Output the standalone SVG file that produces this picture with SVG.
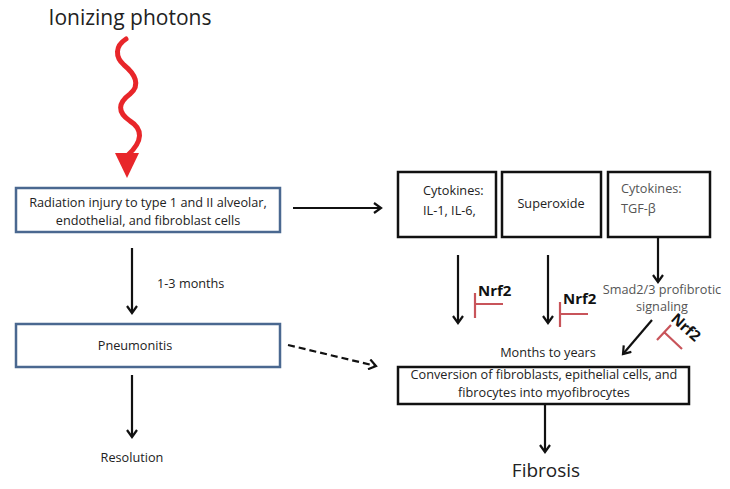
<svg xmlns="http://www.w3.org/2000/svg" width="730" height="489" viewBox="0 0 730 489">
<style>
text{font-family:"Open Sans","Liberation Sans",sans-serif;fill:#222}
.s{font-size:12.7px}
.g{fill:#555}
.b{font-weight:bold;font-size:15px;fill:#111}
.bx{fill:#fff;stroke:#4a6890;stroke-width:2.5}
.kx{fill:#fff;stroke:#111;stroke-width:2.5}
.ln{stroke:#111;stroke-width:2.2;fill:none}
.inh{stroke:#c8545a;stroke-width:2.2;fill:none}
</style>
<defs>
<marker id="ah" markerWidth="12" markerHeight="12" refX="9" refY="6" orient="auto" markerUnits="userSpaceOnUse">
<path d="M2,1 L9,6 L2,11" fill="none" stroke="#111" stroke-width="2.2"/>
</marker>
</defs>
<g id="title"><text x="130" y="25" text-anchor="middle" style="font-size:21px">Ionizing photons</text></g>
<g id="photon">
<path d="M126,39 C115,46 115,57 124,65 C135,74 141,85 130,94 C118,103 117,112 130,121 C143,129 143,141 128,155" fill="none" stroke="#e8262a" stroke-width="5" stroke-linecap="round"/>
<polygon points="115,153 139,153 127,178" fill="#e8262a"/>
</g>
<g id="injury">
<rect class="bx" x="16" y="188" width="264" height="44"/>
<text class="s" x="148" y="207" text-anchor="middle">Radiation injury to type 1 and II alveolar,</text>
<text class="s" x="148" y="225" text-anchor="middle">endothelial, and fibroblast cells</text>
</g>
<g id="pneumonitis">
<rect class="bx" x="16" y="324" width="264" height="43"/>
<text class="s" x="135" y="350" text-anchor="middle">Pneumonitis</text>
</g>
<g id="resolution"><text class="s" x="132" y="462" text-anchor="middle">Resolution</text></g>
<g id="cyto1">
<rect class="kx" x="398" y="172" width="98" height="65"/>
<text class="s" x="423" y="195">Cytokines:</text>
<text class="s" x="423" y="215">IL-1, IL-6,</text>
</g>
<g id="superoxide">
<rect class="kx" x="502" y="172" width="99" height="65"/>
<text class="s" x="551" y="208" text-anchor="middle">Superoxide</text>
</g>
<g id="cyto2">
<rect class="kx" x="608" y="172" width="102" height="65"/>
<text class="s g" x="621" y="193">Cytokines:</text>
<text class="s g" x="621" y="213">TGF-β</text>
</g>
<g id="smad">
<text class="s g" x="662" y="294" text-anchor="middle">Smad2/3 profibrotic</text>
<text class="s g" x="662" y="311" text-anchor="middle">signaling</text>
</g>
<g id="months"><text class="s" x="548" y="357" text-anchor="middle">Months to years</text></g>
<g id="conversion">
<rect class="kx" x="398" y="367" width="291" height="37"/>
<text class="s" x="544" y="379" text-anchor="middle">Conversion of fibroblasts, epithelial cells, and</text>
<text class="s" x="544" y="397" text-anchor="middle">fibrocytes into myofibrocytes</text>
</g>
<g id="fibrosis"><text x="546" y="477" text-anchor="middle" style="font-size:19px">Fibrosis</text></g>
<g id="nrf2">
<text class="b" x="478" y="296">Nrf2</text>
<path class="inh" d="M475,293 V318 M475,304 H503"/>
<text class="b" x="563" y="304">Nrf2</text>
<path class="inh" d="M560,302 V327 M560,314 H588"/>
<text class="b" transform="translate(670,320) rotate(42)">Nrf2</text>
<path class="inh" d="M657,340 L671,325 M664,332 L682,349"/>
</g>
<g id="connectors">
<line class="ln" x1="293" y1="208" x2="381" y2="208" marker-end="url(#ah)"/>
<line class="ln" x1="132" y1="248" x2="132" y2="313" marker-end="url(#ah)"/>
<text class="s" x="157" y="288">1-3 months</text>
<line class="ln" x1="132" y1="375" x2="132" y2="437" marker-end="url(#ah)"/>
<line class="ln" x1="288" y1="345" x2="376" y2="366" stroke-dasharray="7,4" marker-end="url(#ah)"/>
<line class="ln" x1="458" y1="255" x2="458" y2="323" marker-end="url(#ah)"/>
<line class="ln" x1="548" y1="255" x2="548" y2="323" marker-end="url(#ah)"/>
<line class="ln" x1="658" y1="237" x2="658" y2="282" marker-end="url(#ah)"/>
<line class="ln" x1="652" y1="320" x2="623" y2="354" marker-end="url(#ah)"/>
<line class="ln" x1="545" y1="404" x2="545" y2="452" marker-end="url(#ah)"/>
</g>
</svg>
